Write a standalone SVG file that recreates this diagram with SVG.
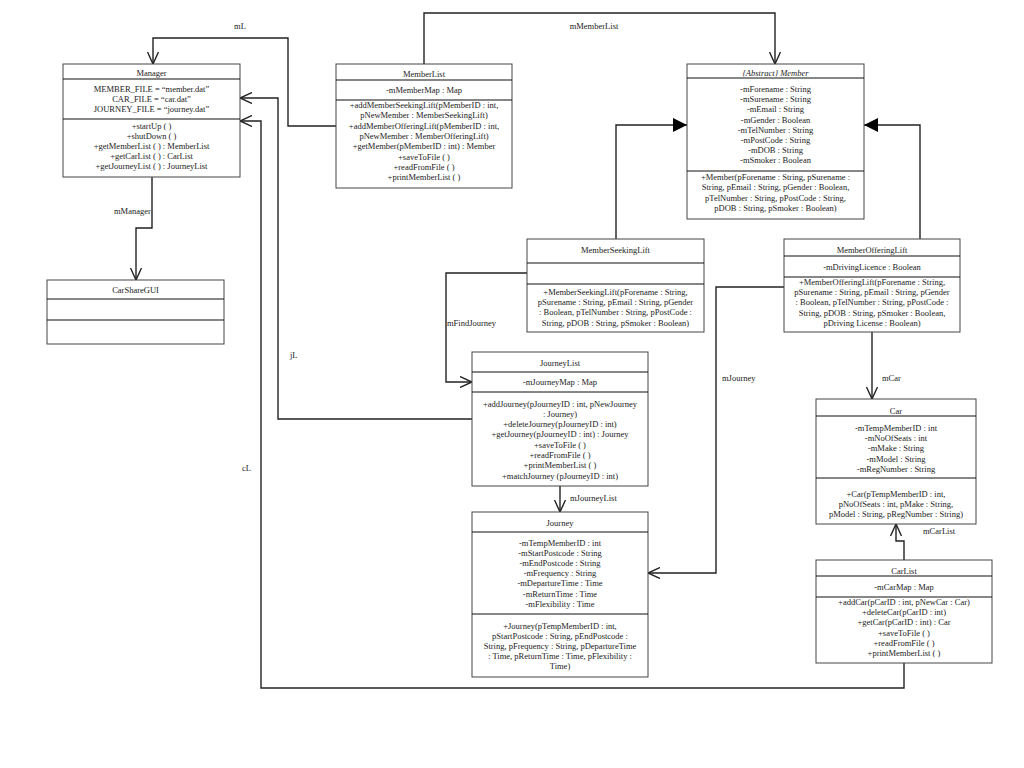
<svg xmlns="http://www.w3.org/2000/svg" width="1024" height="768" viewBox="0 0 1024 768">
<style>
.box{fill:#fff;stroke:#444;stroke-width:1}
.div{stroke:#111;stroke-width:1.2}
text{font-family:"Liberation Serif","Times New Roman",serif;font-size:8.5px;fill:#222}
.c{text-anchor:middle}
.conn{fill:none;stroke:#222;stroke-width:1.4}
</style>
<defs>
<marker id="open" viewBox="0 0 12 12" refX="12" refY="6" markerWidth="12" markerHeight="12" markerUnits="userSpaceOnUse" orient="auto">
<path d="M0,0.5 L12,6 L0,11.5" fill="none" stroke="#222" stroke-width="1.4"/>
</marker>
<marker id="tri" viewBox="0 0 14 14" refX="14" refY="7" markerWidth="14" markerHeight="14" markerUnits="userSpaceOnUse" orient="auto">
<path d="M0,0 L14,7 L0,14 Z" fill="#000"/>
</marker>
</defs>
<rect width="1024" height="768" fill="#fff"/>

<g id="connectors">
<polyline class="conn" points="336,126 288,126 288,38 153,38 153,64" marker-end="url(#open)"/>
<polyline class="conn" points="424,64 424,13 775,13 775,64" marker-end="url(#open)"/>
<polyline class="conn" points="616,239 616,125 687,125" marker-end="url(#tri)"/>
<polyline class="conn" points="920,239 920,125 864,125" marker-end="url(#tri)"/>
<polyline class="conn" points="152,177 152,228 136,228 136,280" marker-end="url(#open)"/>
<polyline class="conn" points="472,419 278,419 278,98 240,98" marker-end="url(#open)"/>
<polyline class="conn" points="904,663 904,688 261,688 261,121 240,121" marker-end="url(#open)"/>
<polyline class="conn" points="527,273 446,273 446,382 472,382" marker-end="url(#open)"/>
<polyline class="conn" points="784,287 716,287 716,573 648,573" marker-end="url(#open)"/>
<polyline class="conn" points="872,332 872,399" marker-end="url(#open)"/>
<polyline class="conn" points="560,486 560,512" marker-end="url(#open)"/>
<polyline class="conn" points="904,560 904,541 896,541 896,524" marker-end="url(#open)"/>
<text x="240" y="29" class="c">mL</text>
<text x="594" y="29" class="c">mMemberList</text>
<text x="114" y="214">mManager</text>
<text x="290" y="358">jL</text>
<text x="242" y="471">cL</text>
<text x="447" y="326">mFindJourney</text>
<text x="722" y="381">mJourney</text>
<text x="882" y="381">mCar</text>
<text x="570" y="501">mJourneyList</text>
<text x="923" y="534">mCarList</text>
</g>

<g id="Manager">
<rect class="box" x="63" y="64" width="177" height="113"/>
<line class="div" x1="63" y1="79" x2="240" y2="79"/>
<line class="div" x1="63" y1="119" x2="240" y2="119"/>
<text x="151.5" y="76" class="c">Manager</text>
<text x="151.5" y="92" class="c">MEMBER_FILE = “member.dat”</text>
<text x="151.5" y="102" class="c">CAR_FILE = “car.dat”</text>
<text x="151.5" y="112" class="c">JOURNEY_FILE = “journey.dat”</text>
<text x="151.5" y="129" class="c">+startUp ( )</text>
<text x="151.5" y="139" class="c">+shutDown ( )</text>
<text x="151.5" y="149" class="c">+getMemberList ( ) : MemberList</text>
<text x="151.5" y="159" class="c">+getCarList ( ) : CarList</text>
<text x="151.5" y="169" class="c">+getJourneyList ( ) : JourneyList</text>
</g>

<g id="MemberList">
<rect class="box" x="336" y="64" width="176" height="124"/>
<line class="div" x1="336" y1="80" x2="512" y2="80"/>
<line class="div" x1="336" y1="100" x2="512" y2="100"/>
<text x="424" y="77" class="c">MemberList</text>
<text x="424" y="93" class="c">-mMemberMap : Map</text>
<text x="424" y="107.5" class="c">+addMemberSeekingLift(pMemberID : int,</text>
<text x="424" y="118" class="c">pNewMember : MemberSeekingLift)</text>
<text x="424" y="128.5" class="c">+addMemberOfferingLift(pMemberID : int,</text>
<text x="424" y="139" class="c">pNewMember : MemberOfferingLift)</text>
<text x="424" y="149" class="c">+getMember(pMemberID : int) : Member</text>
<text x="424" y="159.5" class="c">+saveToFile ( )</text>
<text x="424" y="170" class="c">+readFromFile ( )</text>
<text x="424" y="180" class="c">+printMemberList ( )</text>
</g>

<g id="Member">
<rect class="box" x="687" y="64" width="177" height="155"/>
<line class="div" x1="687" y1="78" x2="864" y2="78"/>
<line class="div" x1="687" y1="171" x2="864" y2="171"/>
<text x="775.5" y="76" class="c" font-style="italic">{Abstract} Member</text>
<text x="775.5" y="92" class="c">-mForename : String</text>
<text x="775.5" y="102.2" class="c">-mSurename : String</text>
<text x="775.5" y="112.4" class="c">-mEmail : String</text>
<text x="775.5" y="122.6" class="c">-mGender : Boolean</text>
<text x="775.5" y="132.8" class="c">-mTelNumber : String</text>
<text x="775.5" y="143" class="c">-mPostCode : String</text>
<text x="775.5" y="153.2" class="c">-mDOB : String</text>
<text x="775.5" y="163.4" class="c">-mSmoker : Boolean</text>
<text x="775.5" y="179.5" class="c">+Member(pForename : String, pSurename :</text>
<text x="775.5" y="190" class="c">String, pEmail : String, pGender : Boolean,</text>
<text x="775.5" y="200.5" class="c">pTelNumber : String, pPostCode : String,</text>
<text x="775.5" y="211" class="c">pDOB : String, pSmoker : Boolean)</text>
</g>

<g id="MemberSeekingLift">
<rect class="box" x="527" y="239" width="177" height="93"/>
<line class="div" x1="527" y1="263" x2="704" y2="263"/>
<line class="div" x1="527" y1="284" x2="704" y2="284"/>
<text x="615.5" y="253" class="c">MemberSeekingLift</text>
<text x="615.5" y="295" class="c">+MemberSeekingLift(pForename : String,</text>
<text x="615.5" y="305" class="c">pSurename : String, pEmail : String, pGender</text>
<text x="615.5" y="315" class="c">: Boolean, pTelNumber : String, pPostCode :</text>
<text x="615.5" y="325.5" class="c">String, pDOB : String, pSmoker : Boolean)</text>
</g>

<g id="MemberOfferingLift">
<rect class="box" x="784" y="239" width="176" height="93"/>
<line class="div" x1="784" y1="256" x2="960" y2="256"/>
<line class="div" x1="784" y1="277" x2="960" y2="277"/>
<text x="872" y="253" class="c">MemberOfferingLift</text>
<text x="872" y="270" class="c">-mDrivingLicence : Boolean</text>
<text x="872" y="285" class="c">+MemberOfferingLift(pForename : String,</text>
<text x="872" y="295" class="c">pSurename : String, pEmail : String, pGender</text>
<text x="872" y="305" class="c">: Boolean, pTelNumber : String, pPostCode :</text>
<text x="872" y="315.5" class="c">String, pDOB : String, pSmoker : Boolean,</text>
<text x="872" y="325.5" class="c">pDriving License : Boolean)</text>
</g>

<g id="CarShareGUI">
<rect class="box" x="47" y="280" width="177" height="64"/>
<line class="div" x1="47" y1="299" x2="224" y2="299"/>
<line class="div" x1="47" y1="320" x2="224" y2="320"/>
<text x="135.5" y="293" class="c">CarShareGUI</text>
</g>

<g id="JourneyList">
<rect class="box" x="472" y="352" width="176" height="134"/>
<line class="div" x1="472" y1="372" x2="648" y2="372"/>
<line class="div" x1="472" y1="392" x2="648" y2="392"/>
<text x="560" y="366" class="c">JourneyList</text>
<text x="560" y="385" class="c">-mJourneyMap : Map</text>
<text x="560" y="406.5" class="c">+addJourney(pJourneyID : int, pNewJourney</text>
<text x="560" y="416.5" class="c">: Journey)</text>
<text x="560" y="427" class="c">+deleteJourney(pJourneyID : int)</text>
<text x="560" y="437" class="c">+getJourney(pJourneyID : int) : Journey</text>
<text x="560" y="447.5" class="c">+saveToFile ( )</text>
<text x="560" y="457.5" class="c">+readFromFile ( )</text>
<text x="560" y="468" class="c">+printMemberList ( )</text>
<text x="560" y="478.5" class="c">+matchJourney (pJourneyID : int)</text>
</g>

<g id="Journey">
<rect class="box" x="472" y="512" width="176" height="165"/>
<line class="div" x1="472" y1="532" x2="648" y2="532"/>
<line class="div" x1="472" y1="614" x2="648" y2="614"/>
<text x="560" y="526" class="c">Journey</text>
<text x="560" y="545.5" class="c">-mTempMemberID : int</text>
<text x="560" y="555.7" class="c">-mStartPostcode : String</text>
<text x="560" y="565.9" class="c">-mEndPostcode : String</text>
<text x="560" y="576.1" class="c">-mFrequency : String</text>
<text x="560" y="586.3" class="c">-mDepartureTime : Time</text>
<text x="560" y="596.5" class="c">-mReturnTime : Time</text>
<text x="560" y="606.7" class="c">-mFlexibility : Time</text>
<text x="560" y="629" class="c">+Journey(pTempMemberID : int,</text>
<text x="560" y="639" class="c">pStartPostcode : String, pEndPostcode :</text>
<text x="560" y="649" class="c">String, pFrequency : String, pDepartureTime</text>
<text x="560" y="659" class="c">: Time, pReturnTime : Time, pFlexibility :</text>
<text x="560" y="669" class="c">Time)</text>
</g>

<g id="Car">
<rect class="box" x="816" y="399" width="160" height="125"/>
<line class="div" x1="816" y1="416" x2="976" y2="416"/>
<line class="div" x1="816" y1="478" x2="976" y2="478"/>
<text x="896" y="414" class="c">Car</text>
<text x="896" y="430.5" class="c">-mTempMemberID : int</text>
<text x="896" y="441" class="c">-mNoOfSeats : int</text>
<text x="896" y="451.3" class="c">-mMake : String</text>
<text x="896" y="461.7" class="c">-mModel : String</text>
<text x="896" y="472" class="c">-mRegNumber : String</text>
<text x="896" y="496.5" class="c">+Car(pTempMemberID : int,</text>
<text x="896" y="506.5" class="c">pNoOfSeats : int, pMake : String,</text>
<text x="896" y="516.5" class="c">pModel : String, pRegNumber : String)</text>
</g>

<g id="CarList">
<rect class="box" x="816" y="560" width="176" height="103"/>
<line class="div" x1="816" y1="576" x2="992" y2="576"/>
<line class="div" x1="816" y1="597" x2="992" y2="597"/>
<text x="904" y="574" class="c">CarList</text>
<text x="904" y="590" class="c">-mCarMap : Map</text>
<text x="904" y="604.5" class="c">+addCar(pCarID : int, pNewCar : Car)</text>
<text x="904" y="615" class="c">+deleteCar(pCarID : int)</text>
<text x="904" y="625" class="c">+getCar(pCarID : int) : Car</text>
<text x="904" y="635.5" class="c">+saveToFile ( )</text>
<text x="904" y="645.5" class="c">+readFromFile ( )</text>
<text x="904" y="656" class="c">+printMemberList ( )</text>
</g>
</svg>
